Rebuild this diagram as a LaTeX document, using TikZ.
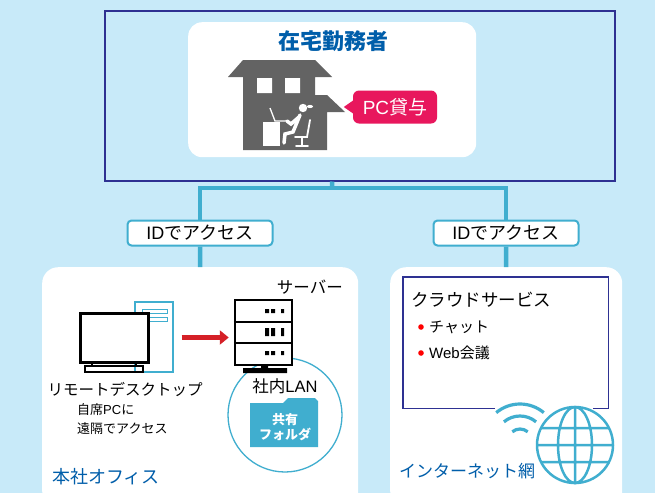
\documentclass[tikz,border=0pt]{standalone}
\usepackage{fontspec}
\setmainfont{Noto Sans CJK JP}
\newfontfamily\latin{Liberation Sans}
\usetikzlibrary{positioning, arrows.meta, calc}

\definecolor{bgblue}{HTML}{C8EAF9}
\definecolor{navy}{HTML}{2E3192}
\definecolor{lanblue}{HTML}{40AECF}
\definecolor{headblue}{HTML}{005EAA}
\definecolor{pcpink}{HTML}{E8175D}
\definecolor{housegray}{HTML}{636363}
\definecolor{arrowred}{HTML}{D52027}
\newcommand\ftsize[1]{\fontsize{#1}{#1}\selectfont}

\begin{document}
\begin{tikzpicture}[
    x=1pt, y=-1pt,
    panel/.style={fill=white, rounded corners=16, inner sep=0, anchor=north west},
    link/.style={draw=lanblue, line width=4.5pt},
    idtag/.style={draw=lanblue, line width=2pt, fill=white, rounded corners=4,
        minimum width=145, minimum height=25, inner sep=0, font=\ftsize{18}},
    heading/.style={text=headblue, font=\ftsize{17}, inner sep=0},
    txt/.style={font=\ftsize{15}, inner sep=0},
    small/.style={font=\ftsize{13}, inner sep=0, anchor=west},
    hw/.style={draw=black, line width=2.5pt, fill=white, inner sep=0},
    fwd/.style={-{Triangle[length=9pt,width=14pt]}, line width=5pt, draw=arrowred},
    pale/.style={draw=lanblue, line width=2.5pt}
]

   % Background
   \fill[bgblue] (0,0) rectangle (655,493);
   \useasboundingbox (0,0) rectangle (655,493);

   % Home office
   \node[draw=navy, line width=1.5pt, minimum width=510, minimum height=170, inner sep=0, anchor=north west] (home) at (104,10) {};
   \node[panel, rounded corners=14, minimum width=288, minimum height=135] (card) at (188,22) {};
   \node[heading, font=\ftsize{22}\bfseries] (title) at (333,41) {在宅勤務者};

   % House
   \fill[housegray] (243,60) -- (315,60) -- (332,77) -- (315,77) -- (315,95) -- (327,95)
        -- (345,112) -- (327,112) -- (327,150) -- (243,150) -- (243,77) -- (228,77) -- cycle;
   \fill[white] (257,78) rectangle (272,93) (285,78) rectangle (300,93);
   % worker at the desk
   \fill[white] (263,122) rectangle (280,146);
   \draw[white, line width=1.3pt] (270,108) -- (275,121) -- (288,121);
   \fill[white] (303,108) circle (4.2) (310,106.5) ellipse (3 and 1.6);
   \draw[white, line width=3.5pt, line cap=round]
        (300,115) -- (293,132) -- (285,134) -- (284,143)
        (299,117) -- (291,124) -- (287,121);
   \draw[white, line width=1.8pt, line cap=round]
        (310,120) -- (307,137) -- (295,137)
        (302,137) -- (302,145) (296,146) -- (308,146);

   % Lent PC callout
   \node[fill=pcpink, text=white, rounded corners=6, minimum width=84, minimum height=33, inner sep=0, font=\ftsize{19}] (pc) at (395,107) {{\latin PC}貸与};
   \fill[pcpink] ([xshift=1pt,yshift=7pt]pc.west) -- ([xshift=-9pt]pc.west) -- ([xshift=1pt,yshift=-7pt]pc.west) -- cycle;

   % Access routes
   \coordinate (split) at (332,188);
   \node[idtag] (idL) at (200,233) {{\latin ID}でアクセス};
   \node[idtag] (idR) at (506,233) {{\latin ID}でアクセス};
   \node[panel, minimum width=316, minimum height=240] (office) at (42,267) {};
   \node[panel, minimum width=232, minimum height=240] (cloud) at (390,267) {};
   \draw[link] (card.south |- home.south) -- (split);
   \draw[link] (idL.north) |- (split) -| (idR.north);
   \draw[link] (idL) -- (office);
   \draw[link] (idR) -- (cloud);

   % Head office
   \draw[draw=lanblue, line width=1.5pt, fill=white] (135,302) rectangle (173,372);
   \draw[draw=lanblue, line width=1pt] (142,309) rectangle (167,313) (142,317) rectangle (167,321);
   \node[hw, line width=3pt, minimum width=68, minimum height=49] (monitor) at (114,337.5) {};
   \draw[black, line width=2pt] (92,362) -- (92,366) (136,362) -- (136,366) (85,366) rectangle (143,372);
   \node[txt, font=\ftsize{15.5}] (remote) at (125,389) {リモートデスクトップ};
   \node[small] (seat) at (77,410) {自席{\latin PC}に};
   \node[small] (far) at (77,429) {遠隔でアクセス};

   \draw[lanblue, line width=1.3pt] (285,415) circle (57);
   \node[hw, minimum width=57, minimum height=65] (srv) at (263.5,332.5) {};
   \draw[black, line width=2.5pt] (srv.west |- 0,322) -- (srv.east |- 0,322)
        (srv.west |- 0,343) -- (srv.east |- 0,343);
   \fill[black] (265,309) rectangle (269,313) (271,309) rectangle (275,313) (281,309) rectangle (284,313)
        (265,328) rectangle (269,336) (271,328) rectangle (275,336) (281,328) rectangle (284,336)
        (265,351) rectangle (269,355) (271,351) rectangle (275,355) (281,351) rectangle (284,355)
        (261,365) rectangle (268,369) (243,368) rectangle (287,373);
   \node[txt, anchor=east, font=\ftsize{16.5}] (srvname) at (343,287) {サーバー};
   \draw[fwd] ([xshift=32pt]monitor.east) -- ([xshift=-5pt]monitor.east -| srv.west);

   \node[txt, font=\ftsize{16.5}] (lan) at (285,386) {社内{\latin LAN}};
   \fill[lanblue] (250,403) -- (283,403) -- (288,398) -- (315,398) -- (318,401) -- (318,447) -- (250,447) -- cycle;
   \node[text=white, font=\ftsize{13}\bfseries, align=center, inner sep=0] (share) at (285,427) {共有\\[2pt]フォルダ};
   \node[heading, anchor=west, font=\ftsize{18}] (officename) at (52,477) {本社オフィス};

   % Internet
   \node[minimum width=205, minimum height=131, inner sep=0, anchor=north west] (svc) at (403,277) {};
   \draw[navy, line width=1.5pt] ([xshift=92pt]svc.south west) -| (svc.north west) -| (svc.south east) -- ++(-15,0);
   \node[txt, anchor=west, font=\ftsize{17.5}] (svcname) at (411,300) {クラウドサービス};
   \fill[red] (421,327) circle (2.8) (421,353) circle (2.8);
   \node[txt, anchor=west, font=\ftsize{15}] (chat) at (429,327) {チャット};
   \node[txt, anchor=west, font=\ftsize{15}] (meet) at (429,353) {{\latin Web}会議};

   \coordinate (wifi) at (520,441);
   \foreach \r in {12,25,37}
      \draw[lanblue, line width=3.2pt] ($(wifi)+(230:\r)$) arc[start angle=230, end angle=310, radius=\r];
   \node[circle, pale, fill=white, minimum size=76, inner sep=0] (globe) at (575,445) {};
   \draw[pale] (globe.center) ellipse (17 and 38) (globe.north) -- (globe.south)
        (537,445) -- (613,445) (541,428) -- (609,428) (541,462) -- (609,462);
   \node[heading, anchor=west, font=\ftsize{17}] (netname) at (399,471) {インターネット網};
\end{tikzpicture}
\end{document}
